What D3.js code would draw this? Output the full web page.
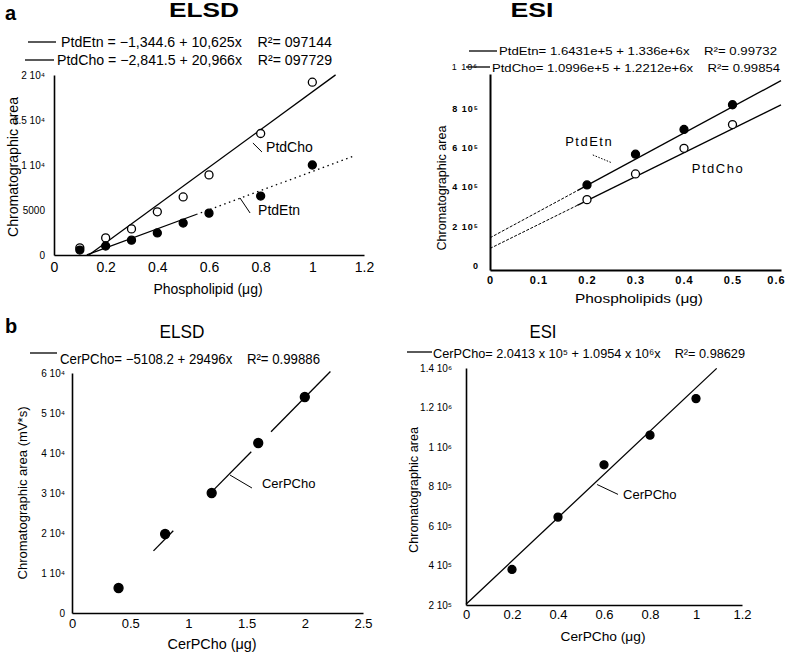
<!DOCTYPE html>
<html><head><meta charset="utf-8">
<script src="https://cdn.jsdelivr.net/npm/d3@7"></script>
<style>body{margin:0;background:#fff}svg{display:block}text{font-family:"Liberation Sans",Arial,sans-serif;fill:#000}</style>
</head><body>
<svg id="c" width="787" height="653"></svg>
<script>
// ---------- DATA ----------
// Panel a, ELSD
const elsdA_x   = [0.1, 0.2, 0.3, 0.4, 0.5, 0.6, 0.8, 1.0];
const elsdA_etn = [550, 1000, 1650, 2450, 3550, 4650, 6550, 10000];
const elsdA_cho = [800, 1900, 2900, 4800, 6450, 8900, 13500, 19200];
const elsdA_etnFit = [-1344.6, 10625];
const elsdA_choFit = [-2841.5, 20966];
const elsdA_xTicks = [0, 0.2, 0.4, 0.6, 0.8, 1, 1.2];
const elsdA_xTickLabels = ["0", "0.2", "0.4", "0.6", "0.8", "1", "1.2"];
const elsdA_yTicks = [0, 5000, 10000, 15000, 20000];
const elsdA_yTickLabels = ["0", "5000", "1 10\u2074", "1.5 10\u2074", "2 10\u2074"];
// Panel a, ESI
const esiA_x   = [0.2, 0.3, 0.4, 0.5];
const esiA_etn = [434000, 591000, 717000, 843000];
const esiA_cho = [359000, 490000, 621000, 742000];
const esiA_etnFit = [164310, 1336000];
const esiA_choFit = [109960, 1221200];
const esiA_xTicks = [0, 0.1, 0.2, 0.3, 0.4, 0.5, 0.6];
const esiA_xTickLabels = ["0", "0.1", "0.2", "0.3", "0.4", "0.5", "0.6"];
const esiA_yTicks = [0, 200000, 400000, 600000, 800000];
const esiA_yTickLabels = ["0", "2 10\u2075", "4 10\u2075", "6 10\u2075", "8 10\u2075"];
// Panel b, ELSD
const elsdB_x = [0.4, 0.8, 1.2, 1.6, 2.0];
const elsdB_y = [6250, 19750, 30000, 42500, 54000];
const elsdB_fit = [-5108.2, 29496];
const elsdB_xTicks = [0, 0.5, 1, 1.5, 2, 2.5];
const elsdB_xTickLabels = ["0", "0.5", "1", "1.5", "2", "2.5"];
const elsdB_yTicks = [0, 10000, 20000, 30000, 40000, 50000, 60000];
const elsdB_yTickLabels = ["0", "1 10\u2074", "2 10\u2074", "3 10\u2074", "4 10\u2074", "5 10\u2074", "6 10\u2074"];
// Panel b, ESI
const esiB_x = [0.2, 0.4, 0.6, 0.8, 1.0];
const esiB_y = [380000, 645000, 910000, 1060000, 1245000];
const esiB_fit = [204130, 1095400];
const esiB_xTicks = [0, 0.2, 0.4, 0.6, 0.8, 1, 1.2];
const esiB_xTickLabels = ["0", "0.2", "0.4", "0.6", "0.8", "1", "1.2"];
const esiB_yTicks = [200000, 400000, 600000, 800000, 1000000, 1200000, 1400000];
const esiB_yTickLabels = ["2 10\u2075", "4 10\u2075", "6 10\u2075", "8 10\u2075", "1 10\u2076", "1.2 10\u2076", "1.4 10\u2076"];

const SP = "\u00a0\u00a0\u00a0\u00a0";
const svg = d3.select("#c");

function fitLine(g, x, y, fit, x0, x1, dash, w) {
  const pts = [x0, x1].map(v => [x(v), y(fit[0] + fit[1] * v)]);
  g.append("path").attr("d", d3.line()(pts)).attr("fill", "none")
    .attr("stroke", "#000").attr("stroke-width", w || 1.3)
    .attr("stroke-dasharray", dash || null);
}
function dots(g, x, y, xs, ys, filled, r) {
  g.selectAll(null).data(xs).enter().append("circle")
    .attr("cx", d => x(d)).attr("cy", (d, i) => y(ys[i])).attr("r", r || 4)
    .attr("fill", filled ? "#000" : "#fff").attr("stroke", "#000").attr("stroke-width", 1.3);
}
function axes(g, x, y, o) {
  const ax = g.append("g").attr("transform", `translate(0,${y.range()[0]})`)
    .call(d3.axisBottom(x).tickValues(o.xt).tickFormat((d, i) => o.xl[i]).tickSize(0).tickPadding(o.xp));
  const ay = g.append("g").attr("transform", `translate(${x.range()[0]},0)`)
    .call(d3.axisLeft(y).tickValues(o.yt).tickFormat((d, i) => o.yl[i]).tickSize(0).tickPadding(o.yp));
  [ax, ay].forEach(a => { a.select(".domain").attr("stroke", "#000").attr("stroke-width", o.aw); });
  ax.selectAll("text").attr("font-size", o.xf).style("letter-spacing", o.ls || null).attr("font-weight", o.fw || null);
  ay.selectAll("text").attr("font-size", o.yf).style("letter-spacing", o.ls || null).attr("font-weight", o.fw || null);
  return {ax, ay};
}
function txt(x, y, s, size, opts) {
  opts = opts || {};
  const t = svg.append("text").attr("x", x).attr("y", y).text(s).attr("font-size", size)
    .attr("text-anchor", opts.anchor || "start").attr("dominant-baseline", "middle");
  if (opts.bold) t.attr("font-weight", "bold");
  if (opts.len) t.attr("textLength", opts.len).attr("lengthAdjust", "spacingAndGlyphs");
  if (opts.rot) t.attr("transform", `rotate(-90,${x},${y})`);
  if (opts.ls) t.style("letter-spacing", opts.ls);
  return t;
}
function legLine(x1, x2, yy) {
  svg.append("line").attr("x1", x1).attr("x2", x2).attr("y1", yy).attr("y2", yy)
    .attr("stroke", "#000").attr("stroke-width", 1.3);
}
function leader(g, x, y, p, dash) {
  g.append("line").attr("x1", x(p[0])).attr("y1", y(p[1])).attr("x2", x(p[2])).attr("y2", y(p[3]))
    .attr("stroke", "#000").attr("stroke-width", 1).attr("stroke-dasharray", dash || null);
}
function label(g, x, y, p, s, size, ls) {
  g.append("text").attr("x", x(p[0])).attr("y", y(p[1])).text(s).attr("font-size", size)
    .attr("dominant-baseline", "middle").style("letter-spacing", ls || null);
}

// ---------- Panel a ELSD ----------
{
  const x = d3.scaleLinear().domain([0, 1.2]).range([54, 364]);
  const y = d3.scaleLinear().domain([0, 20000]).range([255, 75]);
  const g = svg.append("g");
  axes(g, x, y, {xt: elsdA_xTicks, xl: elsdA_xTickLabels, yt: elsdA_yTicks, yl: elsdA_yTickLabels, xp: 7, yp: 9, xf: 14, yf: 10, aw: 1.6});
  fitLine(g, x, y, elsdA_choFit, 0.135, 1.09);
  fitLine(g, x, y, elsdA_etnFit, 0.127, 0.55);
  fitLine(g, x, y, elsdA_etnFit, 0.55, 1.16, "1.5,3.5");
  dots(g, x, y, elsdA_x, elsdA_cho, false);
  dots(g, x, y, elsdA_x, elsdA_etn, true);
  leader(g, x, y, [0.770, 12444, 0.805, 11444]);
  label(g, x, y, [0.821, 11890], "PtdCho", 14);
  leader(g, x, y, [0.72, 6333, 0.759, 4667]);
  label(g, x, y, [0.79, 4889], "PtdEtn", 14);
  txt(14, 167, "Chromatographic area", 14, {anchor: "middle", rot: true, len: 140});
  txt(208, 290, "Phospholipid (\u03bcg)", 14, {anchor: "middle"});
}
txt(5, 15, "a", 20, {bold: true});
txt(204, 12, "ELSD", 20, {bold: true, anchor: "middle", len: 70});
legLine(28, 56, 42);
txt(61, 43, "PtdEtn = \u22121,344.6 + 10,625x" + SP + "R\u00b2= 097144", 14, {len: 271});
legLine(25, 54, 60);
txt(57, 61, "PtdCho = \u22122,841.5 + 20,966x" + SP + "R\u00b2= 097729", 14, {len: 275});

// ---------- Panel a ESI ----------
{
  const x = d3.scaleLinear().domain([0, 0.6]).range([490, 781]);
  const y = d3.scaleLinear().domain([0, 1000000]).range([270, 74]);
  const g = svg.append("g");
  const a = axes(g, x, y, {xt: esiA_xTicks, xl: esiA_xTickLabels, yt: esiA_yTicks, yl: esiA_yTickLabels, xp: 6, yp: 11, xf: 11, yf: 9, aw: 2, ls: "1px", fw: "bold"});
  a.ay.selectAll("text").attr("dy", "-0.2em");
  a.ax.selectAll(".tick:last-of-type text").attr("dx", "-5");
  fitLine(g, x, y, esiA_etnFit, 0, 0.18, "3,1.5", 1);
  fitLine(g, x, y, esiA_etnFit, 0.18, 0.6);
  fitLine(g, x, y, esiA_choFit, 0, 0.18, "3,1.5", 1);
  fitLine(g, x, y, esiA_choFit, 0.18, 0.6);
  dots(g, x, y, esiA_x, esiA_etn, true);
  dots(g, x, y, esiA_x, esiA_cho, false);
  leader(g, x, y, [0.212, 587000, 0.252, 546000], "1.5,1.5");
  label(g, x, y, [0.155, 648000], "PtdEtn", 13, "1.5px");
  label(g, x, y, [0.416, 510000], "PtdCho", 13, "1.5px");
  txt(443, 188, "Chromatographic area", 12, {anchor: "middle", rot: true, len: 125});
  txt(639, 300, "Phospholipids (\u03bcg)", 13, {anchor: "middle", len: 128});
}
txt(532, 12, "ESI", 20, {bold: true, anchor: "middle", len: 43});
legLine(469, 497, 51);
txt(499, 52, "PtdEtn= 1.6431e+5 + 1.336e+6x" + SP + "R\u00b2= 0.99732", 11, {len: 278});
txt(478, 68, "1 10\u2076", 9, {anchor: "end", ls: "1px"});
legLine(466, 490, 67);
txt(492, 69, "PtdCho= 1.0996e+5 + 1.2212e+6x" + SP + "R\u00b2= 0.99854", 11, {len: 288});

// ---------- Panel b ELSD ----------
{
  const x = d3.scaleLinear().domain([0, 2.5]).range([72, 363]);
  const y = d3.scaleLinear().domain([0, 60000]).range([613, 373]);
  const g = svg.append("g");
  axes(g, x, y, {xt: elsdB_xTicks, xl: elsdB_xTickLabels, yt: elsdB_yTicks, yl: elsdB_yTickLabels, xp: 6, yp: 7, xf: 13, yf: 10, aw: 1.6});
  [[0.7, 0.87], [1.2, 1.54], [1.71, 2.22]].forEach(s => fitLine(g, x, y, elsdB_fit, s[0], s[1]));
  dots(g, x, y, elsdB_x, elsdB_y, true, 4.5);
  leader(g, x, y, [1.357, 34500, 1.546, 31250]);
  label(g, x, y, [1.632, 32000], "CerPCho", 13);
  txt(24, 493, "Chromatographic area (mV*s)", 13, {anchor: "middle", rot: true, len: 173});
  txt(212, 645, "CerPCho (\u03bcg)", 14, {anchor: "middle", len: 89});
}
txt(5, 328, "b", 20, {bold: true});
txt(182, 333, "ELSD", 18, {anchor: "middle", len: 45});
legLine(30, 57, 353);
txt(60, 360, "CerPCho= \u22125108.2 + 29496x" + SP + "R\u00b2= 0.99886", 14, {len: 260});

// ---------- Panel b ESI ----------
{
  const x = d3.scaleLinear().domain([0, 1.2]).range([466, 742]);
  const y = d3.scaleLinear().domain([200000, 1400000]).range([605, 368]);
  const g = svg.append("g");
  axes(g, x, y, {xt: esiB_xTicks, xl: esiB_xTickLabels, yt: esiB_yTicks, yl: esiB_yTickLabels, xp: 5, yp: 14, xf: 13, yf: 10, aw: 1.6});
  fitLine(g, x, y, esiB_fit, 0, 1.09);
  dots(g, x, y, esiB_x, esiB_y, true, 4);
  leader(g, x, y, [0.570, 810000, 0.661, 760000]);
  label(g, x, y, [0.683, 755000], "CerPCho", 13);
  txt(415, 490, "Chromatographic area", 12, {anchor: "middle", rot: true, len: 126});
  txt(603, 638, "CerPCho (\u03bcg)", 13, {anchor: "middle", len: 85});
}
txt(543, 333, "ESI", 18, {anchor: "middle", len: 27});
legLine(407, 432, 352);
txt(433, 355, "CerPCho= 2.0413 x 10\u2075 + 1.0954 x 10\u2076x" + SP + "R\u00b2= 0.98629", 13, {len: 312});
</script>
</body></html>
